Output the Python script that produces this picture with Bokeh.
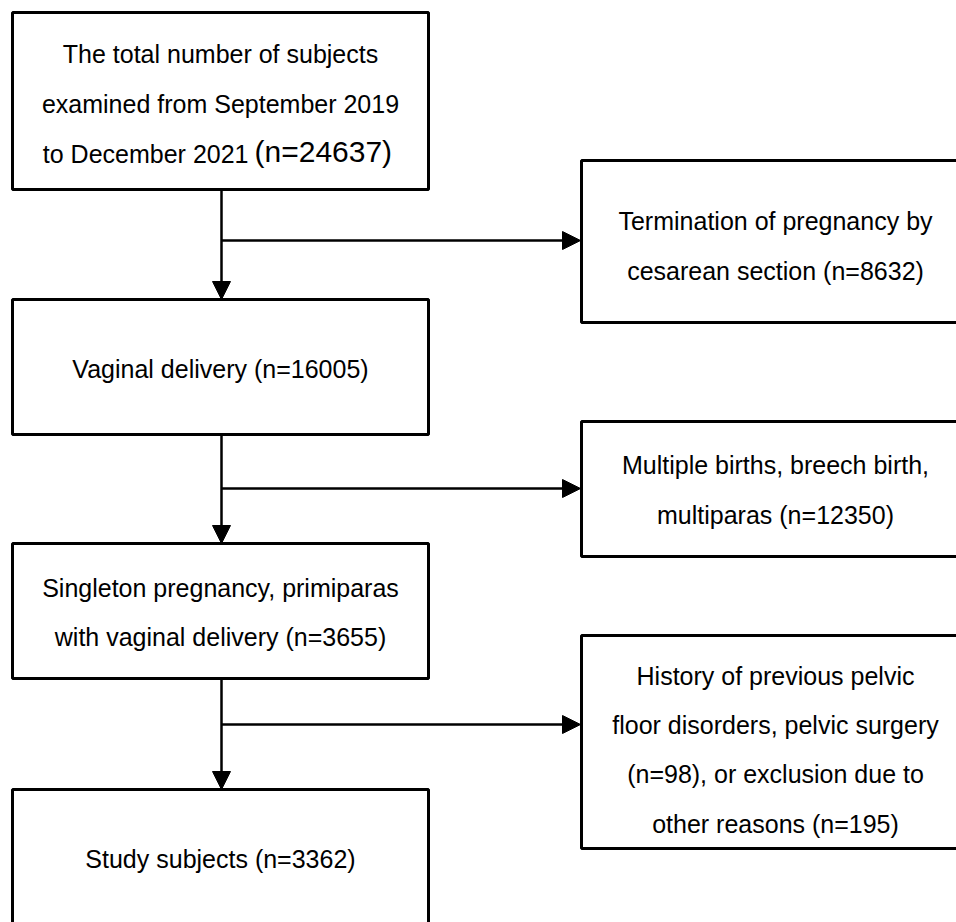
from bokeh.plotting import figure
from bokeh.models import Range1d, Arrow, NormalHead, ColumnDataSource
from bokeh.core.properties import value
from bokeh.embed import file_html
from bokeh.resources import INLINE

# ---------------- data ----------------
main_counts = [24637, 16005, 3655, 3362]
side_counts = [8632, 12350]
history_counts = [98, 195]

main_lines = [
    ["The total number of subjects", "examined from September 2019", "to December 2021"],
    ["Vaginal delivery (n=%d)" % main_counts[1]],
    ["Singleton pregnancy, primiparas", "with vaginal delivery (n=%d)" % main_counts[2]],
    ["Study subjects (n=%d)" % main_counts[3]],
]
first_box_count = "(n=%d)" % main_counts[0]
side_lines = [
    ["Termination of pregnancy by", "cesarean section (n=%d)" % side_counts[0]],
    ["Multiple births, breech birth,", "multiparas (n=%d)" % side_counts[1]],
    ["History of previous pelvic", "floor disorders, pelvic surgery",
     "(n=%d), or exclusion due to" % history_counts[0],
     "other reasons (n=%d)" % history_counts[1]],
]

# ---------------- layout (page pixels) ----------------
main_left, main_right = 12, 428
main_top = [12, 299, 543, 789]
main_bottom = [189, 434, 678, 960]
side_left, side_right = 581, 969
side_top = [160, 421, 635]
side_bottom = [322, 556, 848]
# visual (middle) line positions
main_mid = [[53, 103, 153], [368], [587, 636], [858]]
side_mid = [[220, 270], [464, 514], [675, 724, 773, 823]]
branch_y = [240, 488, 724]
stem_x = 221
main_cx = 220
side_cx = 775

FONT = value("Liberation Sans")
W, H = 956, 922

p = figure(width=W, height=H, output_backend="svg", toolbar_location=None,
           x_range=Range1d(0, W), y_range=Range1d(H, 0),
           min_border=0, min_border_left=0, min_border_right=0,
           min_border_top=0, min_border_bottom=0)
p.axis.visible = False
p.grid.visible = False
p.outline_line_color = None
p.background_fill_color = "white"
p.border_fill_color = "white"

# boxes
p.quad(left=[main_left] * 4, right=[main_right] * 4, top=main_top, bottom=main_bottom,
       fill_color="white", line_color="black", line_width=3)
p.quad(left=[side_left] * 3, right=[side_right] * 3, top=side_top, bottom=side_bottom,
       fill_color="white", line_color="black", line_width=3)

# arrows
down = ColumnDataSource(dict(x0=[stem_x] * 3, y0=main_bottom[:3], x1=[stem_x] * 3, y1=main_top[1:]))
right = ColumnDataSource(dict(x0=[stem_x] * 3, y0=branch_y, x1=[side_left - 1] * 3, y1=branch_y))
for src in (down, right):
    p.add_layout(Arrow(source=src, x_start="x0", y_start="y0", x_end="x1", y_end="y1",
                       line_color="black", line_width=2.5,
                       end=NormalHead(size=18, fill_color="black", line_color="black", line_width=1)))

# texts
tx, ty, tt = [], [], []
for lines, mids in zip(main_lines, main_mid):
    for ln, m in zip(lines, mids):
        if ln == "to December 2021":
            continue
        tx.append(main_cx); ty.append(m); tt.append(ln)
for lines, mids in zip(side_lines, side_mid):
    for ln, m in zip(lines, mids):
        tx.append(side_cx); ty.append(m); tt.append(ln)
p.text(x=tx, y=ty, text=tt, text_font=FONT, text_font_size="25px", text_color="black",
       text_align="center", text_baseline="middle")
p.text(x=[248], y=[main_mid[0][2]], text=["to December 2021"], text_font=FONT,
       text_font_size="25px", text_color="black", text_align="right", text_baseline="middle")
p.text(x=[254], y=[main_mid[0][2] - 2], text=[first_box_count], text_font=FONT,
       text_font_size="30px", text_color="black", text_align="left", text_baseline="middle")

open("out.html", "w").write(file_html(p, INLINE))
